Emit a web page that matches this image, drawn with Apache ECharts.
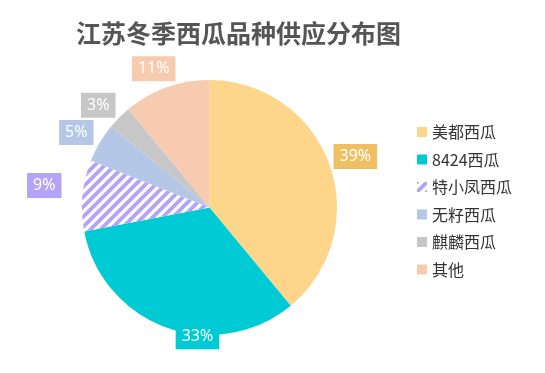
<!DOCTYPE html>
<html>
<head>
<meta charset="utf-8">
<script src="https://cdn.jsdelivr.net/npm/echarts@6/dist/echarts.min.js"></script>
<style>html,body{margin:0;padding:0;background:#fff;}#c{width:545px;height:373px;}</style>
</head>
<body>
<div id="c"></div>
<script>
var titleText = '江苏冬季西瓜品种供应分布图';
var categories = ['美都西瓜', '8424西瓜', '特小凤西瓜', '无籽西瓜', '麒麟西瓜', '其他'];
var values = [39, 33, 9, 5, 3, 11];

var sliceColors = ['#FDD58B', '#00CBD5', null, '#B5C7E7', '#C7C7C7', '#F7CBB0'];
var labelColors = ['#EFC063', '#00CBD5', '#B3A4F7', '#B5C7E7', '#C7C7C7', '#F7CBB0'];

// label placement (layout styling): radial distance from centre + small nudges
var CX = 209.5, CY = 207.5, R = 127.5;
var labelLayoutCfg = [
  { d: 155, dx: 0, dy: 1.5 },
  { d: 130, dx: 32, dy: 7 },
  { d: 166, dx: 0, dy: -6.5 },
  { d: 153, dx: -1.5, dy: 3 },
  { d: 151, dx: -4.5, dy: 4.5 },
  { d: 150, dx: -5, dy: 2.5 }
];

function stripePattern() {
  var c = document.createElement('canvas');
  var s = 10;
  c.width = s; c.height = s;
  var ctx = c.getContext('2d');
  ctx.fillStyle = '#ffffff';
  ctx.fillRect(0, 0, s, s);
  ctx.strokeStyle = '#B3A4F7';
  ctx.lineWidth = 3.8;
  ctx.beginPath();
  ctx.moveTo(-s, s); ctx.lineTo(s, -s);
  ctx.moveTo(0, s); ctx.lineTo(s, 0);
  ctx.moveTo(0, 2 * s); ctx.lineTo(2 * s, 0);
  ctx.stroke();
  return c;
}
var pattern = { image: stripePattern(), repeat: 'repeat' };

var total = values.reduce(function (a, b) { return a + b; }, 0);
var cum = 0;
var midAngles = values.map(function (v) {
  var m = 90 - (cum + v / 2) / total * 360;
  cum += v;
  return m * Math.PI / 180;
});

var chart = echarts.init(document.getElementById('c'), null, { renderer: 'canvas' });
var data = categories.map(function (name, i) {
  return {
    name: name,
    value: values[i],
    itemStyle: { color: sliceColors[i] || pattern },
    label: { backgroundColor: labelColors[i] }
  };
});
chart.setOption({
  backgroundColor: '#ffffff',
  animation: false,
  title: {
    text: titleText,
    left: 71,
    top: 16,
    textStyle: { fontSize: 25, fontWeight: 'bold', color: '#555555', fontFamily: 'Noto Sans CJK SC' }
  },
  legend: {
    orient: 'vertical',
    left: 412,
    top: 119,
    itemWidth: 10,
    itemHeight: 10,
    itemGap: 11.5,
    icon: 'rect',
    textStyle: { fontSize: 16, color: '#333333', fontFamily: 'Noto Sans CJK SC' },
    data: categories
  },
  series: [{
    type: 'pie',
    center: [CX, CY],
    radius: [0, R],
    startAngle: 90,
    clockwise: true,
    avoidLabelOverlap: false,
    data: data,
    label: {
      show: true,
      position: 'outside',
      formatter: '{c}%',
      color: '#ffffff',
      fontSize: 16,
      lineHeight: 17,
      fontFamily: 'Noto Sans',
      padding: [4, 6, 4, 6]
    },
    labelLine: { show: false, length: 10, length2: 0 },
    labelLayout: function (p) {
      var cfg = labelLayoutCfg[p.dataIndex];
      var a = midAngles[p.dataIndex];
      return {
        x: CX + cfg.d * Math.cos(a) + cfg.dx,
        y: CY - cfg.d * Math.sin(a) + cfg.dy,
        align: 'center',
        verticalAlign: 'middle'
      };
    },
    emphasis: { disabled: true }
  }]
});
</script>
</body>
</html>
